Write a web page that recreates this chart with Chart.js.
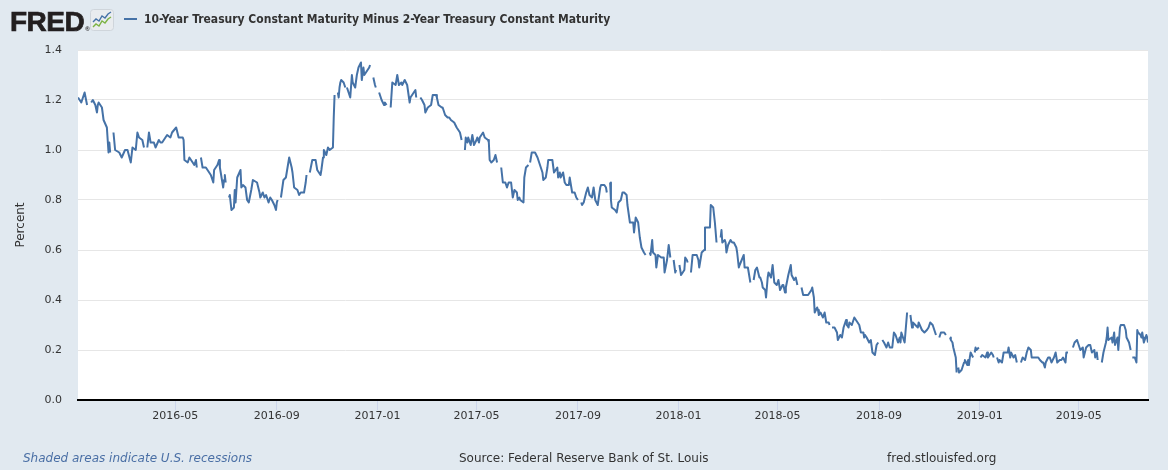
<!DOCTYPE html>
<html lang="en">
<head>
<meta charset="UTF-8">
<title>10-Year Treasury Constant Maturity Minus 2-Year Treasury Constant Maturity</title>
<script src="https://cdn.jsdelivr.net/npm/chart.js@4.4.1/dist/chart.umd.min.js"></script>
<style>
    html, body { margin: 0; padding: 0; background: #e1e9f0; }
    #wrap { position: relative; width: 1168px; height: 470px; overflow: hidden; background: #e1e9f0; color: #333; font-family: 'DejaVu Sans', sans-serif; }
    #chart { position: absolute; left: 0; top: 0; }
    .logo { position: absolute; left: 10px; top: 6px; line-height: 28px; font: bold 28px 'Liberation Sans', Arial, sans-serif; letter-spacing: -0.5px; -webkit-text-stroke: 0.7px #231f20; color: #231f20; white-space: nowrap; }
    .logo .reg { font-size: 6px; letter-spacing: 0; -webkit-text-stroke: 0; margin-left: 1px; }
    .icon { position: absolute; left: 90px; top: 9px; }
    .legend-line { position: absolute; left: 124px; top: 18px; width: 13px; height: 2px; background: #4572a7; }
    .title { position: absolute; left: 144px; top: 12px; line-height: 14px; font: bold 12px 'DejaVu Sans Condensed', 'DejaVu Sans', sans-serif; font-stretch: condensed; white-space: nowrap; transform-origin: 0 50%; }
    .foot { position: absolute; top: 451px; line-height: 14px; font-size: 12px; white-space: nowrap; }
    .note { left: 23px; font-style: italic; color: #4a6fa5; }
    .source { left: 459px; }
    .site { left: 887px; }
</style>
</head>
<body>
<div id="wrap">
    <canvas id="chart" width="1168" height="470"></canvas>
    <div class="logo">FRED<span class="reg">®</span></div>
    <svg class="icon" width="24" height="22" viewBox="0 0 24 22">
        <rect x="0.5" y="0.5" width="23" height="21" rx="3" fill="#e9ecef" stroke="#cfd5db"/>
        <polyline points="3,13 6,10 9,12 12,7 15,9 18,5 21,3" fill="none" stroke="#4572a7" stroke-width="1.4"/>
        <polyline points="3,18 6,15 9,17 12,12 15,14 18,10 21,8" fill="none" stroke="#7cb342" stroke-width="1.4"/>
    </svg>
    <div class="legend-line"></div>
    <div class="title" id="title"></div>
    <div class="foot note">Shaded areas indicate U.S. recessions</div>
    <div class="foot source">Source: Federal Reserve Bank of St. Louis</div>
    <div class="foot site">fred.stlouisfed.org</div>
</div>
<script>
const seriesName = '10-Year Treasury Constant Maturity Minus 2-Year Treasury Constant Maturity';
const axisTitle = 'Percent';

// x tick labels (first day of each month) and y ticks
const tickLabels = ['2016-05', '2016-09', '2017-01', '2017-05', '2017-09', '2018-01', '2018-05', '2018-09', '2019-01', '2019-05'];
const yTicks = [0, 0.2, 0.4, 0.6, 0.8, 1.0, 1.2, 1.4];

// observation dates, null values are market holidays (gaps in the line)
const dates = [
    '2016-01-04','2016-01-06','2016-01-08','2016-01-12','2016-01-15','2016-01-18','2016-01-20','2016-01-22','2016-01-25','2016-01-27','2016-01-28','2016-01-29',
    '2016-02-02','2016-02-04','2016-02-08','2016-02-10','2016-02-11','2016-02-12','2016-02-15','2016-02-16','2016-02-18','2016-02-23','2016-02-26',
    '2016-03-01','2016-03-04','2016-03-08','2016-03-10','2016-03-14','2016-03-16','2016-03-18','2016-03-22','2016-03-24','2016-03-25','2016-03-28','2016-03-30',
    '2016-04-01','2016-04-05','2016-04-07','2016-04-11','2016-04-13','2016-04-15','2016-04-21','2016-04-25','2016-04-27',
    '2016-05-02','2016-05-05','2016-05-10','2016-05-11','2016-05-12','2016-05-16','2016-05-18','2016-05-20','2016-05-24','2016-05-26','2016-05-27','2016-05-30',
    '2016-06-01','2016-06-03','2016-06-07','2016-06-09','2016-06-13','2016-06-16','2016-06-17','2016-06-21','2016-06-23','2016-06-24','2016-06-27','2016-06-28','2016-06-29','2016-06-30',
    '2016-07-01','2016-07-04','2016-07-05','2016-07-06','2016-07-08','2016-07-11','2016-07-12','2016-07-13','2016-07-15','2016-07-19','2016-07-20','2016-07-22','2016-07-25','2016-07-27','2016-07-29',
    '2016-08-01','2016-08-03','2016-08-08','2016-08-11','2016-08-12','2016-08-15','2016-08-17','2016-08-19','2016-08-22','2016-08-24','2016-08-26','2016-08-29','2016-08-31',
    '2016-09-01','2016-09-02','2016-09-05','2016-09-06','2016-09-09','2016-09-12','2016-09-14','2016-09-16','2016-09-19','2016-09-20','2016-09-22','2016-09-26','2016-09-28','2016-09-30',
    '2016-10-04','2016-10-06','2016-10-07','2016-10-10','2016-10-11','2016-10-14','2016-10-18','2016-10-20','2016-10-24','2016-10-25','2016-10-27','2016-10-28','2016-10-31',
    '2016-11-02','2016-11-04','2016-11-08','2016-11-09','2016-11-10','2016-11-11','2016-11-14','2016-11-15','2016-11-16','2016-11-17','2016-11-18','2016-11-21','2016-11-23','2016-11-24','2016-11-25','2016-11-29',
    '2016-12-01','2016-12-02','2016-12-05','2016-12-07','2016-12-09','2016-12-12','2016-12-13','2016-12-15','2016-12-16','2016-12-20','2016-12-22','2016-12-23','2016-12-26','2016-12-27','2016-12-29','2016-12-30',
    '2017-01-02','2017-01-03','2017-01-06','2017-01-09','2017-01-10','2017-01-12','2017-01-16','2017-01-17','2017-01-19','2017-01-23','2017-01-25','2017-01-27','2017-01-30','2017-01-31',
    '2017-02-03','2017-02-06','2017-02-09','2017-02-10','2017-02-14','2017-02-16','2017-02-17','2017-02-20','2017-02-22','2017-02-24','2017-02-27','2017-02-28',
    '2017-03-03','2017-03-07','2017-03-09','2017-03-13','2017-03-14','2017-03-16','2017-03-20','2017-03-21','2017-03-23','2017-03-24','2017-03-27','2017-03-29','2017-03-31',
    '2017-04-04','2017-04-07','2017-04-11','2017-04-13','2017-04-14','2017-04-17','2017-04-18','2017-04-20','2017-04-21','2017-04-24','2017-04-26','2017-04-28',
    '2017-05-01','2017-05-02','2017-05-04','2017-05-05','2017-05-09','2017-05-11','2017-05-15','2017-05-16','2017-05-17','2017-05-19','2017-05-22','2017-05-24','2017-05-26','2017-05-29','2017-05-31',
    '2017-06-02','2017-06-05','2017-06-07','2017-06-09','2017-06-12','2017-06-14','2017-06-16','2017-06-19','2017-06-20','2017-06-22','2017-06-23','2017-06-27','2017-06-28','2017-06-30',
    '2017-07-03','2017-07-04','2017-07-05','2017-07-07','2017-07-10','2017-07-11','2017-07-12','2017-07-14','2017-07-18','2017-07-20','2017-07-21','2017-07-24','2017-07-26','2017-07-27','2017-07-31',
    '2017-08-01','2017-08-03','2017-08-04','2017-08-07','2017-08-08','2017-08-10','2017-08-11','2017-08-14','2017-08-16','2017-08-18','2017-08-21','2017-08-22','2017-08-24','2017-08-25','2017-08-28','2017-08-30',
    '2017-09-01','2017-09-04','2017-09-05','2017-09-06','2017-09-08','2017-09-11','2017-09-13','2017-09-15','2017-09-18','2017-09-20','2017-09-22','2017-09-25','2017-09-28','2017-09-29',
    '2017-10-03','2017-10-05','2017-10-06','2017-10-09','2017-10-10','2017-10-11','2017-10-12','2017-10-16','2017-10-18','2017-10-20','2017-10-23','2017-10-25','2017-10-27','2017-10-30','2017-10-31',
    '2017-11-03','2017-11-07','2017-11-08','2017-11-10','2017-11-13','2017-11-15','2017-11-17','2017-11-20','2017-11-22','2017-11-23','2017-11-27','2017-11-28','2017-11-30',
    '2017-12-01','2017-12-04','2017-12-05','2017-12-07','2017-12-11','2017-12-12','2017-12-14','2017-12-15','2017-12-18','2017-12-20','2017-12-22','2017-12-25','2017-12-26','2017-12-28','2017-12-29',
    '2018-01-01','2018-01-02','2018-01-04','2018-01-08','2018-01-09','2018-01-11','2018-01-12','2018-01-15','2018-01-16','2018-01-18','2018-01-22','2018-01-23','2018-01-25','2018-01-26','2018-01-29',
    '2018-02-01','2018-02-02','2018-02-05','2018-02-08','2018-02-09','2018-02-12','2018-02-14','2018-02-16','2018-02-19','2018-02-21','2018-02-22','2018-02-23','2018-02-26','2018-02-27','2018-02-28',
    '2018-03-02','2018-03-05','2018-03-07','2018-03-09','2018-03-12','2018-03-13','2018-03-15','2018-03-16','2018-03-21','2018-03-22','2018-03-26','2018-03-27','2018-03-29','2018-03-30',
    '2018-04-02','2018-04-04','2018-04-06','2018-04-09','2018-04-10','2018-04-12','2018-04-13','2018-04-16','2018-04-17','2018-04-19','2018-04-20','2018-04-23','2018-04-25','2018-04-27','2018-04-30',
    '2018-05-02','2018-05-04','2018-05-07','2018-05-08','2018-05-10','2018-05-11','2018-05-14','2018-05-17','2018-05-18','2018-05-21','2018-05-23','2018-05-25','2018-05-28','2018-05-30',
    '2018-06-01','2018-06-04','2018-06-07','2018-06-11','2018-06-12','2018-06-14','2018-06-15','2018-06-18','2018-06-19','2018-06-20','2018-06-22','2018-06-25','2018-06-27','2018-06-29',
    '2018-07-02','2018-07-03','2018-07-04','2018-07-06','2018-07-09','2018-07-12','2018-07-13','2018-07-16','2018-07-18','2018-07-20','2018-07-23','2018-07-24','2018-07-26','2018-07-27','2018-07-30',
    '2018-08-02','2018-08-06','2018-08-08','2018-08-10','2018-08-13','2018-08-14','2018-08-15','2018-08-17','2018-08-20','2018-08-22','2018-08-24','2018-08-27','2018-08-29','2018-08-31',
    '2018-09-03','2018-09-05','2018-09-07','2018-09-10','2018-09-12','2018-09-14','2018-09-17','2018-09-19','2018-09-21','2018-09-24','2018-09-26','2018-09-27','2018-09-28',
    '2018-10-02','2018-10-03','2018-10-05','2018-10-08','2018-10-09','2018-10-11','2018-10-12','2018-10-15','2018-10-18','2018-10-19','2018-10-23','2018-10-26','2018-10-29','2018-10-31',
    '2018-11-02','2018-11-05','2018-11-09','2018-11-12','2018-11-13','2018-11-15','2018-11-19','2018-11-21','2018-11-22','2018-11-26','2018-11-27','2018-11-29','2018-11-30',
    '2018-12-03','2018-12-04','2018-12-05','2018-12-06','2018-12-07','2018-12-10','2018-12-11','2018-12-13','2018-12-14','2018-12-17','2018-12-18','2018-12-19','2018-12-20','2018-12-21','2018-12-24','2018-12-25','2018-12-26','2018-12-27','2018-12-28','2018-12-31',
    '2019-01-01','2019-01-02','2019-01-04','2019-01-08','2019-01-10','2019-01-11','2019-01-15','2019-01-17','2019-01-18','2019-01-21','2019-01-22','2019-01-24','2019-01-25','2019-01-28','2019-01-30',
    '2019-02-01','2019-02-04','2019-02-05','2019-02-07','2019-02-08','2019-02-11','2019-02-13','2019-02-15','2019-02-18','2019-02-20','2019-02-22','2019-02-25','2019-02-27',
    '2019-03-01','2019-03-04','2019-03-05','2019-03-07','2019-03-11','2019-03-13','2019-03-15','2019-03-18','2019-03-19','2019-03-21','2019-03-22','2019-03-25','2019-03-27','2019-03-29',
    '2019-04-01','2019-04-03','2019-04-05','2019-04-08','2019-04-10','2019-04-12','2019-04-15','2019-04-16','2019-04-18','2019-04-19','2019-04-24','2019-04-26','2019-04-29',
    '2019-05-01','2019-05-03','2019-05-06','2019-05-07','2019-05-10','2019-05-13','2019-05-15','2019-05-17','2019-05-20','2019-05-21','2019-05-23','2019-05-24','2019-05-27','2019-05-29','2019-05-31',
    '2019-06-03','2019-06-04','2019-06-05','2019-06-06','2019-06-10','2019-06-11','2019-06-13','2019-06-14','2019-06-17','2019-06-18','2019-06-20','2019-06-21','2019-06-25','2019-06-27','2019-06-28',
    '2019-07-01','2019-07-03','2019-07-04','2019-07-05','2019-07-08','2019-07-09','2019-07-10','2019-07-11','2019-07-12','2019-07-15','2019-07-16','2019-07-17','2019-07-18','2019-07-19','2019-07-22','2019-07-23','2019-07-24'
];

// 10y minus 2y spread, percent (same order as dates)
const spread = [
    1.21, 1.20, 1.19, 1.23, 1.18, null, 1.19, 1.20, 1.18, 1.15, 1.18, 1.19,
    1.17, 1.12, 1.09, 0.99, 1.03, 0.99, null, 1.07, 1.00, 0.99, 0.97,
    1.00, 1.00, 0.95, 1.01, 1.00, 1.07, 1.05, 1.04, 1.01, null, 1.01, 1.07,
    1.03, 1.03, 1.01, 1.04, 1.03, 1.03, 1.06, 1.05, 1.07,
    1.09, 1.05, 1.05, 1.04, 0.96, 0.95, 0.97, 0.96, 0.94, 0.96, 0.93, null,
    0.97, 0.93, 0.93, 0.92, 0.90, 0.87, 0.92, 0.94, 0.96, 0.93, 0.87, 0.85, 0.88, 0.90,
    0.87, null, 0.81, 0.82, 0.76, 0.77, 0.84, 0.79, 0.89, 0.92, 0.85, 0.86, 0.85, 0.80, 0.79,
    0.84, 0.88, 0.87, 0.83, 0.81, 0.83, 0.81, 0.82, 0.79, 0.81, 0.80, 0.78, 0.76,
    0.79, 0.80, null, 0.81, 0.88, 0.89, 0.93, 0.97, 0.93, 0.91, 0.85, 0.84, 0.82, 0.83,
    0.83, 0.87, 0.90, null, 0.91, 0.96, 0.96, 0.92, 0.90, 0.92, 0.97, 1.00, 0.98,
    1.01, 1.00, 1.01, 1.13, 1.22, null, 1.23, 1.21, 1.25, 1.27, 1.28, 1.27, 1.25, null, 1.25, 1.21,
    1.30, 1.27, 1.25, 1.30, 1.33, 1.35, 1.28, 1.33, 1.30, 1.32, 1.33, 1.34, null, 1.29, 1.26, 1.25,
    null, 1.23, 1.20, 1.18, 1.19, 1.18, null, 1.17, 1.27, 1.26, 1.30, 1.26, 1.27, 1.26,
    1.28, 1.26, 1.19, 1.21, 1.23, 1.24, 1.21, null, 1.21, 1.20, 1.18, 1.15,
    1.17, 1.18, 1.22, 1.22, 1.21, 1.18, 1.17, 1.17, 1.15, 1.14, 1.13, 1.13, 1.12,
    1.11, 1.09, 1.07, 1.04, null, 1.00, 1.05, 1.03, 1.05, 1.02, 1.06, 1.02,
    1.04, 1.05, 1.03, 1.05, 1.07, 1.05, 1.04, 1.03, 0.96, 0.95, 0.96, 0.98, 0.95, null, 0.93,
    0.87, 0.87, 0.85, 0.87, 0.87, 0.81, 0.84, 0.83, 0.80, 0.81, 0.80, 0.79, 0.89, 0.93,
    0.94, null, 0.95, 0.99, 0.99, 0.99, 0.99, 0.97, 0.93, 0.91, 0.88, 0.89, 0.93, 0.96, 0.96,
    0.96, 0.91, 0.91, 0.93, 0.89, 0.91, 0.89, 0.91, 0.87, 0.86, 0.86, 0.89, 0.85, 0.83, 0.83, 0.81,
    0.80, null, 0.79, 0.78, 0.79, 0.83, 0.85, 0.82, 0.81, 0.85, 0.80, 0.78, 0.85, 0.86,
    0.86, 0.85, 0.83, null, 0.87, 0.80, 0.77, 0.76, 0.75, 0.79, 0.80, 0.83, 0.83, 0.82, 0.78,
    0.71, 0.71, 0.67, 0.73, 0.71, 0.65, 0.61, 0.59, 0.58, null, 0.59, 0.58, 0.64,
    0.59, 0.58, 0.53, 0.58, 0.57, 0.57, 0.57, 0.51, 0.56, 0.62, 0.57, null, 0.56, 0.51, 0.52,
    null, 0.54, 0.50, 0.52, 0.57, 0.56, 0.55, null, 0.51, 0.58, 0.58, 0.58, 0.56, 0.53, 0.59,
    0.60, 0.69, 0.69, 0.69, 0.78, 0.77, 0.71, 0.63, null, 0.65, 0.68, 0.63, 0.64, 0.63, 0.59,
    0.62, 0.64, 0.63, 0.63, 0.61, 0.59, 0.53, 0.54, 0.58, 0.53, 0.53, 0.51, 0.47, null,
    0.48, 0.52, 0.53, 0.49, 0.49, 0.47, 0.45, 0.44, 0.41, 0.49, 0.51, 0.49, 0.54, 0.47, 0.46,
    0.48, 0.44, 0.46, 0.46, 0.43, 0.45, 0.50, 0.54, 0.50, 0.48, 0.49, 0.46, null, 0.45,
    0.42, 0.42, 0.42, 0.44, 0.45, 0.41, 0.35, 0.37, 0.36, 0.34, 0.35, 0.33, 0.35, 0.31,
    0.31, 0.30, null, 0.29, 0.29, 0.27, 0.24, 0.26, 0.25, 0.29, 0.32, 0.30, 0.29, 0.31, 0.30,
    0.33, 0.31, 0.30, 0.27, 0.27, 0.25, 0.26, 0.25, 0.23, 0.24, 0.19, 0.18, 0.22, 0.23,
    null, 0.24, 0.23, 0.21, 0.23, 0.21, 0.21, 0.27, 0.26, 0.23, 0.25, 0.23, 0.27,
    0.23, 0.27, 0.35, null, 0.34, 0.29, 0.31, 0.30, 0.29, 0.31, 0.28, 0.27, 0.28, 0.29,
    0.31, 0.30, 0.26, null, 0.25, 0.27, 0.27, 0.26, null, 0.25, 0.24, 0.23, 0.21,
    0.17, 0.11, null, 0.13, 0.11, 0.12, 0.13, 0.15, 0.16, 0.14, 0.16, 0.14, 0.17, 0.19, 0.17, null, 0.19, 0.21, 0.20, 0.21,
    null, 0.17, 0.18, 0.17, 0.19, 0.17, 0.19, 0.18, 0.17, null, 0.17, 0.15, 0.16, 0.15, 0.19,
    0.19, 0.19, 0.21, 0.17, 0.19, 0.17, 0.18, 0.15, null, 0.15, 0.17, 0.16, 0.19,
    0.21, 0.20, 0.17, 0.17, 0.17, 0.17, 0.16, 0.15, 0.15, 0.13, 0.15, 0.17, 0.17, 0.15,
    0.17, 0.19, 0.15, 0.16, 0.16, 0.17, 0.15, 0.19, 0.19, null, 0.21, 0.23, 0.24,
    0.22, 0.20, 0.21, 0.17, 0.21, 0.22, 0.22, 0.19, 0.20, 0.17, 0.19, 0.16, null, 0.15, 0.19,
    0.23, 0.25, 0.29, 0.24, 0.25, 0.23, 0.27, 0.22, 0.25, 0.20, 0.29, 0.30, 0.30, 0.28, 0.25,
    0.23, 0.20, null, 0.17, 0.17, 0.16, 0.15, 0.28, 0.27, 0.26, 0.25, 0.27, 0.25, 0.23, 0.26, 0.25, 0.23
];

if (dates.length !== spread.length) {
    throw new Error('dates and spread differ in length: ' + dates.length + ' vs ' + spread.length);
}

const DAY = 86400000;
const toDay = s => Date.parse(s) / DAY;

const points = dates.map((d, i) => ({ x: toDay(d), y: spread[i] }));

// header title, squeezed if the condensed face is missing
const titleEl = document.getElementById('title');
titleEl.textContent = seriesName;
const titleWidth = 473;
const measured = titleEl.getBoundingClientRect().width;
if (measured > titleWidth) {
    titleEl.style.transform = 'scaleX(' + (titleWidth / measured) + ')';
}

// white plot area on the grey page
const plotBackground = {
    id: 'plotBackground',
    beforeDraw(chart) {
        const { ctx, chartArea } = chart;
        ctx.save();
        ctx.fillStyle = '#ffffff';
        ctx.fillRect(chartArea.left, chartArea.top, chartArea.right - chartArea.left, chartArea.bottom - chartArea.top);
        ctx.restore();
    }
};

Chart.defaults.font.family = "'DejaVu Sans', sans-serif";
Chart.defaults.color = '#333333';

new Chart(document.getElementById('chart'), {
    type: 'line',
    data: {
        datasets: [{
            label: seriesName,
            data: points,
            borderColor: '#4572a7',
            borderWidth: 2,
            pointRadius: 0,
            tension: 0,
            spanGaps: false,
            borderJoinStyle: 'round'
        }]
    },
    options: {
        responsive: false,
        animation: false,
        layout: { padding: { top: 50, right: 20, left: 0, bottom: 0 } },
        plugins: {
            legend: { display: false },
            tooltip: { enabled: false }
        },
        scales: {
            x: {
                type: 'linear',
                min: toDay(dates[0]),
                max: toDay(dates[dates.length - 1]),
                afterBuildTicks: axis => {
                    axis.ticks = tickLabels.map(t => ({ value: toDay(t + '-01') }));
                },
                afterFit: axis => { axis.height = 70; },
                ticks: {
                    callback: (value, index) => tickLabels[index],
                    autoSkip: false,
                    maxRotation: 0,
                    padding: 0,
                    color: '#333333',
                    font: { size: 11 }
                },
                grid: { drawOnChartArea: false, drawTicks: true, tickLength: 10, color: '#ccd6eb' },
                border: { color: '#000000', width: 2 }
            },
            y: {
                min: 0,
                max: 1.4,
                afterBuildTicks: axis => {
                    axis.ticks = yTicks.map(v => ({ value: v }));
                },
                afterFit: axis => { axis.width = 78; },
                ticks: {
                    callback: value => value.toFixed(1),
                    padding: 16,
                    color: '#333333',
                    font: { size: 11 }
                },
                grid: { color: '#e6e6e6', drawTicks: false },
                border: { display: false },
                title: {
                    display: true,
                    text: axisTitle,
                    color: '#333333',
                    font: { size: 12 },
                    padding: { top: 13.5, bottom: 0 }
                }
            }
        }
    },
    plugins: [plotBackground]
});
</script>
</body>
</html>
